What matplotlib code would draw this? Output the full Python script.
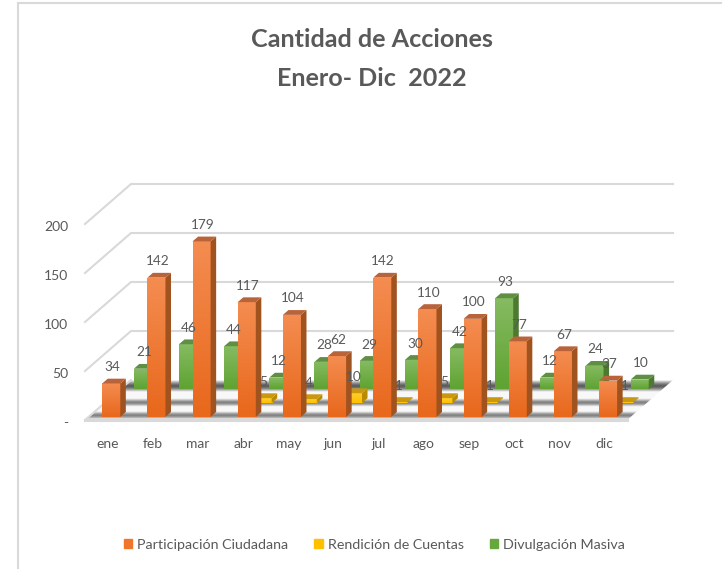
import numpy as np
import matplotlib
matplotlib.use('Agg')
import matplotlib.pyplot as plt
from matplotlib.colors import LinearSegmentedColormap
from matplotlib.lines import Line2D
from matplotlib.patches import Patch, Polygon
from matplotlib.transforms import ScaledTranslation

plt.rcParams['font.family'] = ['Lato', 'DejaVu Sans']

months = ['ene', 'feb', 'mar', 'abr', 'may', 'jun', 'jul', 'ago', 'sep', 'oct', 'nov', 'dic']
participacion = [34, 142, 179, 117, 104, 62, 142, 110, 100, 77, 67, 37]
rendicion = [0, 0, 0, 5, 4, 10, 1, 5, 1, 0, 0, 1]
divulgacion = [21, 46, 44, 12, 28, 29, 30, 42, 93, 12, 24, 10]
y_ticks = [0, 50, 100, 150, 200]
y_tick_labels = ['-', '50', '100', '150', '200']

TEXT = '#595959'
GRID = '#D9D9D9'

fig = plt.figure(figsize=(7.22, 5.69), dpi=100)
ax = fig.add_axes([85 / 722, (569 - 420) / 569, 542 / 722, 196 / 569])

# oblique depth: d=0 is the front of the floor, d=1 the back wall
DEPTH_X = 46 / (542 / 12)
DEPTH_Y = 40 / 0.98
BAR_W = 0.40
BAR_D = 0.12


def proj(x, y, d):
    return (x + d * DEPTH_X, y + d * DEPTH_Y)


# back wall and side wall lines
for v in y_ticks[1:]:
    pts = [proj(0, v, 0), proj(0, v, 1), proj(12, v, 1)]
    ax.plot([p[0] for p in pts], [p[1] for p in pts], color=GRID, lw=1.5, clip_on=False, zorder=1)

# floor with the soft dark strips under each row
floor = Polygon([proj(0, 0, 0), proj(12, 0, 0), proj(12, 0, 1), proj(0, 0, 1)],
                closed=True, fc='#F8F8F8', ec='none', clip_on=False, zorder=1)
ax.add_patch(floor)
for d0, d1 in [(0.02, 0.22), (0.34, 0.54), (0.70, 1.0)]:
    steps = np.linspace(d0, d1, 13)
    for a, b in zip(steps[:-1], steps[1:]):
        t = abs((a + b) / 2 - (d0 + d1) / 2) / ((d1 - d0) / 2)
        g = 0.36 + 0.64 * t ** 1.5
        ax.add_patch(Polygon([proj(0, 0, a), proj(12, 0, a), proj(12, 0, b), proj(0, 0, b)],
                             closed=True, fc=(g, g, g), ec='none', clip_on=False, zorder=1.1))
ax.plot([0, 12], [0, 0], color=GRID, lw=2.2, clip_on=False, zorder=1.2)
ax.plot(*zip(proj(0, 0, 0), proj(0, 0, 1)), color=GRID, lw=1.5, clip_on=False, zorder=1.2)


def draw_row(values, d, light, dark, top, side, z):
    xs = np.arange(12) + 0.5 + d * DEPTH_X
    base = d * DEPTH_Y
    keep = [i for i, v in enumerate(values) if v > 0]
    heights = [values[i] for i in keep]
    bars = ax.bar(xs[keep], heights, BAR_W, bottom=base, color=dark, zorder=z, clip_on=False)
    cmap = LinearSegmentedColormap.from_list('g', [light, dark])
    for bar, v, i in zip(bars, heights, keep):
        l = xs[i] - BAR_W / 2
        r = xs[i] + BAR_W / 2
        im = ax.imshow(np.linspace(0, 1, 32).reshape(-1, 1), cmap=cmap, aspect='auto',
                       extent=(l, r, base, base + v), origin='upper', zorder=z + 0.1)
        im.set_clip_path(bar)
        # side face and top face
        ax.add_patch(Polygon([(r, base), (r + BAR_D * DEPTH_X, base + BAR_D * DEPTH_Y),
                              (r + BAR_D * DEPTH_X, base + v + BAR_D * DEPTH_Y), (r, base + v)],
                             closed=True, fc=side, ec='none', zorder=z + 0.2, clip_on=False))
        ax.add_patch(Polygon([(l, base + v), (r, base + v),
                              (r + BAR_D * DEPTH_X, base + v + BAR_D * DEPTH_Y),
                              (l + BAR_D * DEPTH_X, base + v + BAR_D * DEPTH_Y)],
                             closed=True, fc=top, ec='none', zorder=z + 0.2, clip_on=False))
    for i, v in zip(keep, heights):
        ax.annotate(str(v), (xs[i], base + v), xytext=(0.7, 11.8), textcoords='offset points',
                    ha='center', va='center', fontsize=9.8, color=TEXT, zorder=20,
                    annotation_clip=False)


draw_row(divulgacion, 0.767, '#86BB62', '#5FA332', '#5F8F42', '#4C7A30', 3)
draw_row(rendicion, 0.425, '#FFCB2E', '#FFC000', '#C9980F', '#B98C00', 5)
draw_row(participacion, 0.08, '#F48C50', '#E8681C', '#B9633A', '#A0521F', 7)

ax.set_xlim(0, 12)
ax.set_ylim(0, 200)
ax.patch.set_visible(False)
for s in ax.spines.values():
    s.set_visible(False)
ax.set_xticks(np.arange(12) + 0.5)
ax.set_xticklabels(months)
ax.set_yticks(y_ticks)
ax.set_yticklabels(y_tick_labels)
ax.tick_params(axis='x', length=0, pad=13, labelsize=10, labelcolor=TEXT)
ax.tick_params(axis='y', length=0, pad=12, labelsize=10, labelcolor=TEXT)
# y labels sit a little under their level
down = ScaledTranslation(0, -2 / 100, fig.dpi_scale_trans)
for lab in ax.get_yticklabels():
    lab.set_transform(lab.get_transform() + down)

fig.text(372 / 722, 1 - 39.5 / 569, 'Cantidad de Acciones', ha='center', va='center',
         fontsize=18.1, fontweight='bold', color=TEXT)
fig.text(372 / 722, 1 - 79 / 569, 'Enero- Dic  2022', ha='center', va='center',
         fontsize=18.1, fontweight='bold', color=TEXT)

handles = [Patch(color='#F0762A', label='Participación Ciudadana'),
           Patch(color='#FFC000', label='Rendición de Cuentas'),
           Patch(color='#66A83C', label='Divulgación Masiva')]
fig.legend(handles=handles, ncol=3, loc='center', bbox_to_anchor=(374.5 / 722, 1 - 545 / 569),
           frameon=False, fontsize=10.3, labelcolor=TEXT, handlelength=0.6, handleheight=0.6,
           handletextpad=0.35, columnspacing=1.8)

# frame lines of the pasted chart
fig.add_artist(Line2D([18 / 722, 1], [1 - 3 / 569, 1 - 3 / 569], color=GRID, lw=1.5))
fig.add_artist(Line2D([18 / 722, 18 / 722], [0, 1 - 3 / 569], color=GRID, lw=1.5))

fig.savefig('out.png', dpi=100)
